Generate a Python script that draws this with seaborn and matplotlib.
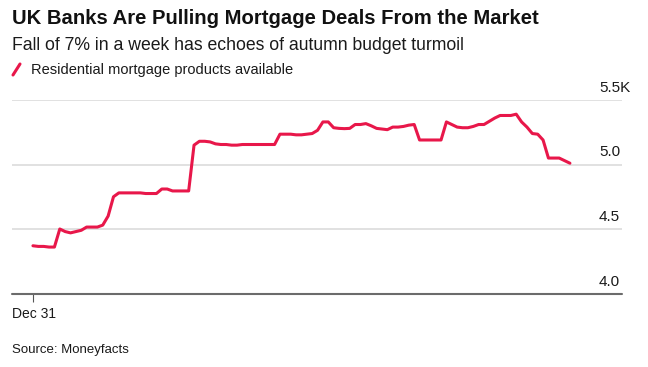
import seaborn as sns
import matplotlib.pyplot as plt
import pandas as pd

# residential mortgage products available (thousands), daily from Dec 31
start_date = "2025-12-31"
products_k = [4.37, 4.365, 4.365, 4.36, 4.36, 4.50, 4.48, 4.47, 4.48, 4.49,
              4.515, 4.515, 4.515, 4.53, 4.60, 4.75, 4.78, 4.78, 4.78, 4.78,
              4.78, 4.775, 4.775, 4.775, 4.81, 4.81, 4.795, 4.795, 4.795, 4.795,
              5.15, 5.18, 5.18, 5.175, 5.16, 5.155, 5.155, 5.15, 5.15, 5.155,
              5.155, 5.155, 5.155, 5.155, 5.155, 5.155, 5.235, 5.235, 5.235, 5.23,
              5.23, 5.235, 5.24, 5.265, 5.33, 5.33, 5.285, 5.28, 5.278, 5.28,
              5.31, 5.31, 5.317, 5.30, 5.28, 5.275, 5.27, 5.29, 5.29, 5.295,
              5.305, 5.31, 5.19, 5.19, 5.19, 5.19, 5.19, 5.33, 5.31, 5.29,
              5.285, 5.285, 5.295, 5.31, 5.31, 5.335, 5.36, 5.38, 5.38, 5.38,
              5.39, 5.33, 5.29, 5.24, 5.235, 5.19, 5.05, 5.05, 5.05, 5.03,
              5.01]
y_ticks = [4.0, 4.5, 5.0, 5.5]
y_labels = ["4.0", "4.5", "5.0", "5.5K"]

df = pd.DataFrame({
    "date": pd.date_range(start_date, periods=len(products_k), freq="D"),
    "products": products_k,
})

sns.set_style("white")
plt.rcParams["font.family"] = ["Liberation Sans", "DejaVu Sans"]

red = "#e8174a"
fig = plt.figure(figsize=(6.48, 3.67), dpi=100)
ax = fig.add_axes([12 / 648, 1 - 293.5 / 367, 610 / 648, 193.5 / 367])

sns.lineplot(data=df, x="date", y="products", color=red, linewidth=2.2, ax=ax)

t0 = df["date"].iloc[0]
ax.set_xlim(t0 - pd.Timedelta(days=3.9), t0 + pd.Timedelta(days=109.7))
ax.set_ylim(4.0, 5.5)

for v in y_ticks[1:]:
    ax.axhline(v, color="#dcdcdc", linewidth=1.2, zorder=0)
ax.axhline(4.0, color="#6b6b6b", linewidth=1.5, zorder=3, clip_on=False)

for v, lab in zip(y_ticks, y_labels):
    ax.annotate(lab, xy=(1, v), xycoords=("axes fraction", "data"),
                xytext=(-23, 8), textcoords="offset pixels",
                ha="left", va="baseline", fontsize=11, color="#1a1a1a")

ax.set_xticks([t0])
ax.set_xticklabels([])
ax.set_yticks([])
ax.tick_params(axis="x", bottom=True, length=6, width=0.8, color="#555555", direction="out")
ax.set_xlabel("")
ax.set_ylabel("")
sns.despine(ax=ax, left=True, right=True, top=True, bottom=True)
ax.annotate("Dec 31", xy=(0, 0), xycoords="figure pixels",
            xytext=(12, 367 - 318), textcoords="figure pixels",
            ha="left", va="baseline", fontsize=10, color="#1a1a1a")

fig.text(12 / 648, 1 - 24.5 / 367, "UK Banks Are Pulling Mortgage Deals From the Market",
         fontsize=14.6, fontweight="bold", color="#111111", va="baseline")
fig.text(12 / 648, 1 - 49.5 / 367, "Fall of 7% in a week has echoes of autumn budget turmoil",
         fontsize=12.7, color="#1a1a1a", va="baseline")
fig.lines.append(plt.Line2D([13 / 648, 20 / 648], [1 - 75 / 367, 1 - 64 / 367],
                            transform=fig.transFigure, color=red, linewidth=2.2))
fig.text(31 / 648, 1 - 74 / 367, "Residential mortgage products available",
         fontsize=10.5, color="#1a1a1a", va="baseline")
fig.text(12 / 648, 1 - 353 / 367, "Source: Moneyfacts",
         fontsize=9.5, color="#1a1a1a", va="baseline")

fig.savefig("out.png", dpi=100)
